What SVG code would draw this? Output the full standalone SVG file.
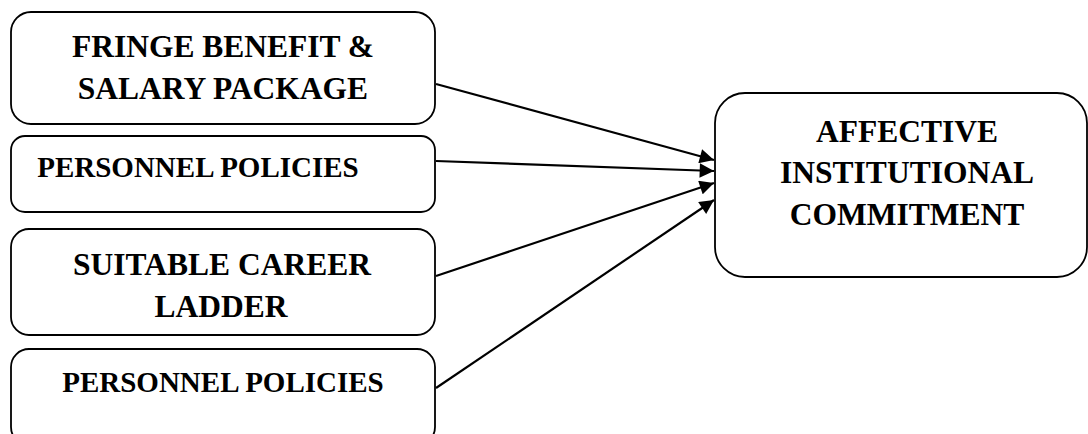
<svg xmlns="http://www.w3.org/2000/svg" width="1088" height="434" viewBox="0 0 1088 434">
<style>
.box{fill:#fff;stroke:#000;stroke-width:1.8}
.t{font-family:"Liberation Serif","Times New Roman",serif;font-weight:bold;font-size:31.5px;fill:#000;text-anchor:middle}
.s{font-size:29px}
.c{stroke:#000;stroke-width:2.2;fill:none;marker-end:url(#ah)}
</style>
<defs>
<marker id="ah" viewBox="0 0 10 10" refX="10" refY="5" markerWidth="7.5" markerHeight="6.5" markerUnits="strokeWidth" orient="auto">
<path d="M0,0 L10,5 L0,10 z" fill="#000"/>
</marker>
</defs>
<rect width="1088" height="434" fill="#fff"/>
<g id="connectors">
<line class="c" x1="436" y1="84" x2="714" y2="160"/>
<line class="c" x1="436" y1="161" x2="714" y2="171"/>
<line class="c" x1="436" y1="276" x2="714" y2="183"/>
<line class="c" x1="436" y1="388" x2="714" y2="200"/>
</g>
<g id="fringe">
<rect class="box" x="11" y="12" width="424" height="112" rx="20"/>
<text class="t" x="223" y="57">FRINGE BENEFIT &amp;</text>
<text class="t" x="223" y="99">SALARY PACKAGE</text>
</g>
<g id="policies1">
<rect class="box" x="11" y="136" width="424" height="76" rx="14"/>
<text class="t s" x="198" y="177">PERSONNEL POLICIES</text>
</g>
<g id="career">
<rect class="box" x="11" y="229" width="424" height="106" rx="18"/>
<text class="t" x="222" y="275">SUITABLE CAREER</text>
<text class="t" x="221" y="317">LADDER</text>
</g>
<g id="policies2">
<rect class="box" x="11" y="349" width="424" height="96" rx="18"/>
<text class="t s" x="223" y="392">PERSONNEL POLICIES</text>
</g>
<g id="affective">
<rect class="box" x="715" y="93" width="372" height="184" rx="30"/>
<text class="t" x="907" y="142">AFFECTIVE</text>
<text class="t" x="907" y="183">INSTITUTIONAL</text>
<text class="t" x="907" y="225">COMMITMENT</text>
</g>
</svg>
